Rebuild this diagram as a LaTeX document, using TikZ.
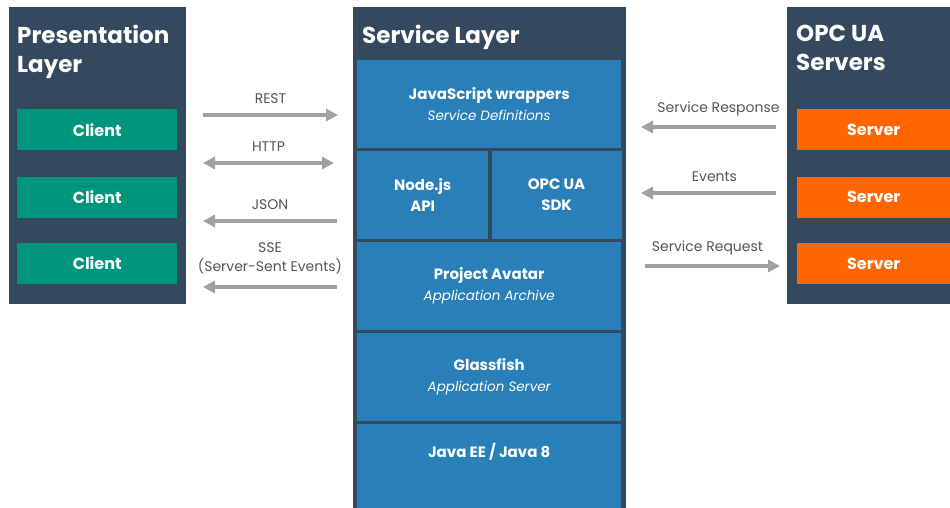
\documentclass[tikz,border=0pt]{standalone}
\usepackage{fontspec}
\setmainfont{Poppins}
\usetikzlibrary{positioning,arrows.meta}
\definecolor{paneldark}{RGB}{52,72,94}
\definecolor{clientgreen}{RGB}{0,150,125}
\definecolor{serverorange}{RGB}{255,102,0}
\definecolor{blockblue}{RGB}{41,128,185}
\definecolor{arrowgray}{RGB}{160,160,160}
\definecolor{labelgray}{RGB}{85,85,85}
\newcommand{\blocksub}{\fontsize{13.5}{21}\selectfont\mdseries\itshape}

\begin{document}
\begin{tikzpicture}[x=1pt,y=-1pt,
  panel/.style={fill=paneldark, inner sep=0pt, anchor=north west},
  title/.style={inner sep=0pt, align=left, text=white, font=\fontsize{23}{29}\selectfont\bfseries},
  client/.style={fill=clientgreen, text=white, minimum width=160pt, minimum height=41pt, inner sep=0pt, font=\fontsize{16}{18}\selectfont\bfseries},
  server/.style={client, fill=serverorange, minimum width=153pt},
  block/.style={fill=blockblue, text=white, minimum width=264pt, minimum height=88pt, inner sep=0pt, align=center, font=\fontsize{15}{21}\selectfont\bfseries},
  flow/.style={draw=arrowgray, line width=3.5pt, -{Triangle[length=12pt,width=12pt]}},
  flowlabel/.style={text=labelgray, inner sep=0pt, align=center, font=\fontsize{14}{19}\selectfont}
]
\useasboundingbox (0,0) rectangle (950,508);

\node[panel, minimum width=177pt, minimum height=297pt] (PL) at (9,7) {};
\node[title, below right=18pt and 8pt of PL.north west] (PLtitle) {Presentation\\Layer};
\node[client, below right=102pt and 8pt of PL.north west, anchor=north west] (PC1) {Client};
\node[client, below=26pt of PC1] (PC2) {Client};
\node[client, below=25pt of PC2] (PC3) {Client};

\node[panel, minimum width=273pt, minimum height=501pt] (SL) at (353,7) {};
\node[title, below right=18pt and 9pt of SL.north west] (SLtitle) {Service Layer};
\node[block, below right=53pt and 4pt of SL.north west, anchor=north west] (SJ)
  {JavaScript wrappers\\{\blocksub Service Definitions}};
\node[block, minimum width=131pt, below=2.5pt of SJ.south west, anchor=north west] (SN) {Node.js\\API};
\node[block, minimum width=130pt, right=3pt of SN] (SO) {OPC UA\\SDK};
\node[block, below=2.5pt of SN.south west, anchor=north west] (SA)
  {Project Avatar\\{\blocksub Application Archive}};
\node[block, below=2.5pt of SA] (SG) {Glassfish\\{\blocksub Application Server}};
\node[block, minimum height=86pt, text height=12pt, text depth=30pt, below=2.5pt of SG] (SE) {Java EE / Java 8};

\node[panel, minimum width=163pt, minimum height=297pt] (OP) at (787,7) {};
\node[title, below right=18pt and 9pt of OP.north west] (OPtitle) {OPC UA\\Servers};
\node[server, below right=102pt and 10pt of OP.north west, anchor=north west] (OS1) {Server};
\node[server, below=26pt of OS1] (OS2) {Server};
\node[server, below=25pt of OS2] (OS3) {Server};

\coordinate (RESTa) at (203,115);
\coordinate (RESTb) at (338,115);
\coordinate (HTTPa) at (203,163);
\coordinate (HTTPb) at (334,163);
\coordinate (JSONa) at (203,221);
\coordinate (JSONb) at (337,221);
\coordinate (SSEa) at (203,287);
\coordinate (SSEb) at (337,287);
\coordinate (RESPa) at (641,127);
\coordinate (RESPb) at (776,127);
\coordinate (EVTa) at (641,193);
\coordinate (EVTb) at (776,193);
\coordinate (REQa) at (645,266);
\coordinate (REQb) at (780,266);

\draw[flow] (RESTa) -- node[flowlabel, above=10pt] (RESTl) {REST} (RESTb);
\draw[flow, {Triangle[length=12pt,width=12pt]}-{Triangle[length=12pt,width=12pt]}] (HTTPa) -- node[flowlabel, above=10pt] (HTTPl) {HTTP} (HTTPb);
\draw[flow] (JSONb) -- node[flowlabel, above=10pt] (JSONl) {JSON} (JSONa);
\draw[flow] (SSEb) -- node[flowlabel, above=11pt] (SSEl) {SSE\\(Server-Sent Events)} (SSEa);
\draw[flow] (RESPb) -- node[flowlabel, above=9pt, xshift=10pt] (RESPl) {Service Response} (RESPa);
\draw[flow] (EVTb) -- node[flowlabel, above=10pt, xshift=6pt] (EVTl) {Events} (EVTa);
\draw[flow] (REQa) -- node[flowlabel, above=9pt, xshift=-5pt] (REQl) {Service Request} (REQb);

\end{tikzpicture}
\end{document}
